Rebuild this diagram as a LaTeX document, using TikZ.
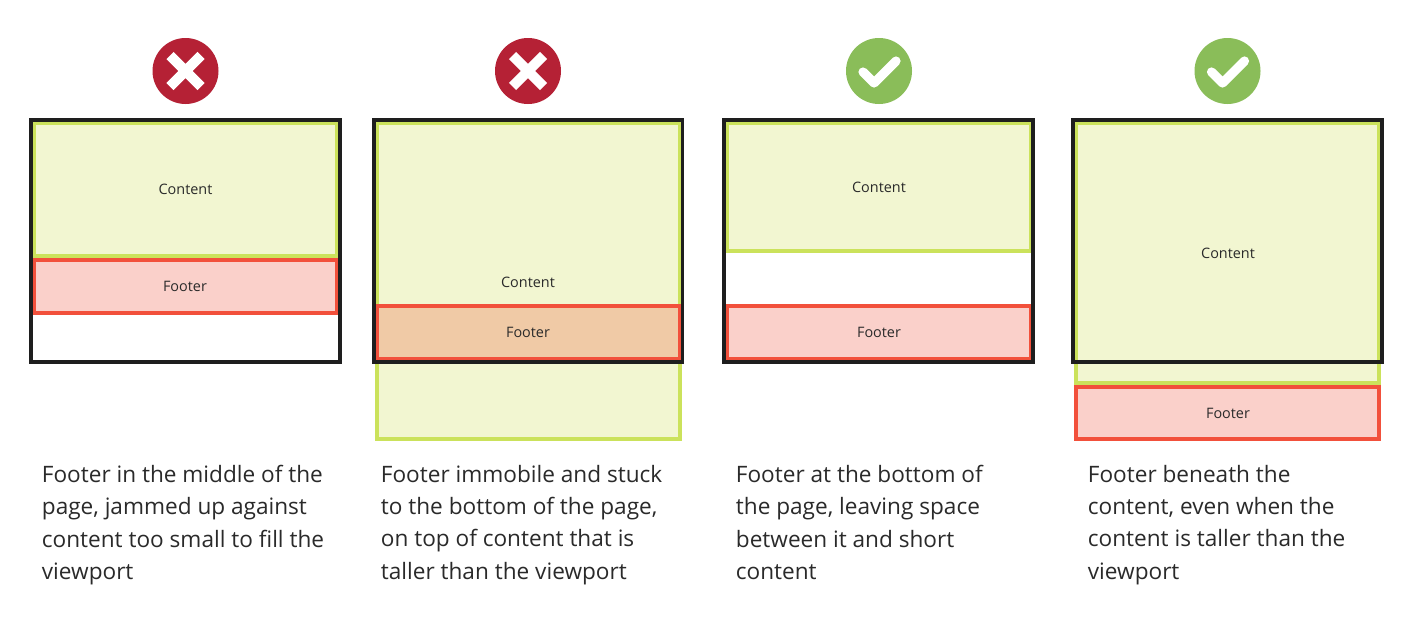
\documentclass[tikz,border=0pt]{standalone}
\usepackage{fontspec}
\setmainfont{Open Sans}
\definecolor{gfill}{HTML}{F2F6D1}
\definecolor{gline}{HTML}{CBE25B}
\definecolor{rfill}{HTML}{FAD0CA}
\definecolor{rline}{HTML}{F2503B}
\definecolor{ofill}{HTML}{F0CAA6}
\definecolor{frameblk}{HTML}{1E1E1E}
\definecolor{badred}{HTML}{B52135}
\definecolor{goodgreen}{HTML}{8ABD59}
\definecolor{ink}{HTML}{2A2A2A}
\tikzset{
  x=0.5pt,y=-0.5pt,
  contentbox/.style={draw=gline,fill=gfill,line width=2pt},
  footerbox/.style={draw=rline,fill=rfill,line width=2pt},
  overlapbox/.style={draw=rline,fill=ofill,line width=2pt},
  framebox/.style={draw=frameblk,line width=1.8pt},
  lab/.style={font=\fontsize{7.2pt}{9pt}\selectfont,text=ink,inner sep=0pt},
  caption/.style={font=\fontsize{11.3pt}{16.1pt}\selectfont,text=ink,inner sep=0pt,anchor=north west,align=left},
  badbadge/.style={circle,fill=badred,minimum size=33pt,inner sep=0pt},
  goodbadge/.style={circle,fill=goodgreen,minimum size=33pt,inner sep=0pt},
  crossstroke/.style={draw=white,line width=5pt,line cap=butt},
  tickstroke/.style={draw=white,line width=4.6pt,line cap=round,line join=round}
}
\newcommand{\crossmark}[1]{\draw[crossstroke] ([shift={(-15.5,-15.5)}]#1.center) -- ([shift={(15.5,15.5)}]#1.center) ([shift={(15.5,-15.5)}]#1.center) -- ([shift={(-15.5,15.5)}]#1.center);}
\newcommand{\tickmark}[1]{\draw[tickstroke] ([shift={(-16,1)}]#1.center) -- ([shift={(-5,12)}]#1.center) -- ([shift={(17,-10)}]#1.center);}
\begin{document}
\begin{tikzpicture}
\useasboundingbox (0,0) rectangle (1412,616);
\fill[white] (0,0) rectangle (1412,616);
% badges
\node[badbadge] (b1) at (185.5,71) {};
\node[badbadge] (b2) at (528,71) {};
\node[goodbadge] (b3) at (879,71) {};
\node[goodbadge] (b4) at (1227.5,71) {};
\crossmark{b1}\crossmark{b2}\tickmark{b3}\tickmark{b4}
% panel 1
\draw[contentbox] (33.5,122.5) rectangle (337,256);
\draw[footerbox] (33.5,260) rectangle (337,313);
\draw[framebox] (31,120) rectangle (340,362);
\node[lab] (c1) at (185.5,189.5) {Content};
\node[lab] (f1) at (185,286.5) {Footer};
% panel 2
\draw[contentbox] (377,122.5) rectangle (680,439);
\draw[overlapbox] (377,305.5) rectangle (680,359);
\draw[framebox] (374,120) rectangle (682.5,362);
\node[lab] (c2) at (528,282) {Content};
\node[lab] (f2) at (528,332.5) {Footer};
% panel 3
\draw[contentbox] (727,122.5) rectangle (1031,250.5);
\draw[footerbox] (727,305.5) rectangle (1031,358.5);
\draw[framebox] (724,120) rectangle (1033,362);
\node[lab] (c3) at (879,187.5) {Content};
\node[lab] (f3) at (879,332.5) {Footer};
% panel 4
\draw[contentbox] (1076,122.5) rectangle (1379,383);
\draw[footerbox] (1076,386.5) rectangle (1379,439);
\draw[framebox] (1073,120) rectangle (1382,362);
\node[lab] (c4) at (1228,253) {Content};
\node[lab] (f4) at (1228,413.5) {Footer};
% captions
\node[caption] (t1) at (41.5,465) {Footer in the middle of the\\page, jammed up against\\content too small to fill the\\viewport};
\node[caption] (t2) at (380.5,465) {Footer immobile and stuck\\to the bottom of the page,\\on top of content that is\\taller than the viewport};
\node[caption] (t3) at (735.5,465) {Footer at the bottom of\\the page, leaving space\\between it and short\\content};
\node[caption] (t4) at (1087.5,465) {Footer beneath the\\content, even when the\\content is taller than the\\viewport};
\end{tikzpicture}
\end{document}
